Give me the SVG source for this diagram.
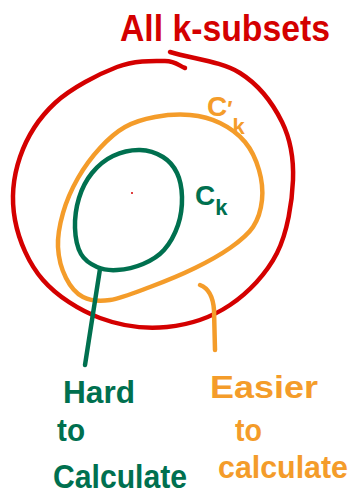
<svg xmlns="http://www.w3.org/2000/svg" width="354" height="494" viewBox="0 0 354 494">
<style>
.ln{fill:none;stroke-width:4.5;stroke-linecap:round;stroke-linejoin:round}
.red{stroke:#d40000}.org{stroke:#f49c2a}.grn{stroke:#00704f}
.t{font-family:"Liberation Sans","DejaVu Sans",sans-serif;font-weight:bold}
.tr{fill:#d40000}.to{fill:#f49c2a}.tg{fill:#00704f}
</style>
<rect width="354" height="494" fill="#fff"/>
<g id="all-k-subsets">
<path class="ln red" d="M170,52 C193,59 221.3,61.3 240,73 C258.7,84.7 273.2,104.2 282,122 C290.8,139.8 293.8,158.2 293,180 C292.2,201.8 287.5,232.2 277,253 C266.5,273.8 248.3,292.7 230,305 C211.7,317.3 188.7,324.8 167,327 C145.3,329.2 120.7,325.8 100,318 C79.3,310.2 57.2,296.3 43,280 C28.8,263.7 18.8,240.5 15,220 C11.2,199.5 13.3,176.5 20,157 C26.7,137.5 38.8,118 55,103 C71.2,88 98.7,74 117,67 C135.3,60 153.7,60.8 165,61 C176.3,61.2 178.3,65.7 185,68"/>
<circle cx="132" cy="193" r="1" fill="#d40000"/>
<text class="t tr" x="120" y="41" font-size="36" textLength="210" lengthAdjust="spacingAndGlyphs">All k-subsets</text>
</g>
<g id="c-prime-k">
<path class="ln org" d="M155,117 C165.8,115 179.2,114 190,115 C200.8,116 210.8,118.5 220,123 C229.2,127.5 238.5,134.2 245,142 C251.5,149.8 256.2,160.3 259,170 C261.8,179.7 263,190.5 262,200 C261,209.5 258.3,219 253,227 C247.7,235 239.7,241.2 230,248 C220.3,254.8 208.3,261.5 195,268 C181.7,274.5 164.2,281.7 150,287 C135.8,292.3 121.2,298.3 110,300 C98.8,301.7 90.3,300.7 83,297 C75.7,293.3 70.2,286.3 66,278 C61.8,269.7 58.5,257.8 58,247 C57.5,236.2 59.7,224.5 63,213 C66.3,201.5 71.8,188.8 78,178 C84.2,167.2 92.2,156.5 100,148 C107.8,139.5 115.8,132.2 125,127 C134.2,121.8 144.2,119 155,117 Z"/>
<text class="t to" x="207" y="116" font-size="28">C<tspan font-size="22">′</tspan><tspan font-size="22" dy="18">k</tspan></text>
</g>
<g id="c-k">
<path class="ln grn" d="M140,150 C148.3,150.2 156.8,153.2 163,157 C169.2,160.8 173.8,166.3 177,173 C180.2,179.7 181.8,188.3 182,197 C182.2,205.7 181,216.2 178,225 C175,233.8 169.8,243.5 164,250 C158.2,256.5 150.8,260.7 143,264 C135.2,267.3 124.7,269.5 117,270 C109.3,270.5 103,269.7 97,267 C91,264.3 84.7,260.5 81,254 C77.3,247.5 75.3,237.3 75,228 C74.7,218.7 76.2,207.2 79,198 C81.8,188.8 86.3,180 92,173 C97.7,166 105,159.8 113,156 C121,152.2 131.7,149.8 140,150 Z"/>
<text class="t tg" x="195" y="205" font-size="28">C<tspan font-size="22" dy="10">k</tspan></text>
</g>
<g id="connectors">
<path class="ln grn" d="M100,269 L92,320 L85,365"/>
<path class="ln org" d="M200,285 C208,288 213,296 214,310 L215,350"/>
</g>
<g id="hard-label">
<text class="t tg" x="63" y="403" font-size="32" textLength="72" lengthAdjust="spacingAndGlyphs">Hard</text>
<text class="t tg" x="57" y="441" font-size="32" textLength="28" lengthAdjust="spacingAndGlyphs">to</text>
<text class="t tg" x="53" y="488" font-size="34" textLength="134" lengthAdjust="spacingAndGlyphs">Calculate</text>
</g>
<g id="easier-label">
<text class="t to" x="210" y="398" font-size="32" textLength="108" lengthAdjust="spacingAndGlyphs">Easier</text>
<text class="t to" x="235" y="441" font-size="32" textLength="27" lengthAdjust="spacingAndGlyphs">to</text>
<text class="t to" x="218" y="478" font-size="32" textLength="130" lengthAdjust="spacingAndGlyphs">calculate</text>
</g>
</svg>
